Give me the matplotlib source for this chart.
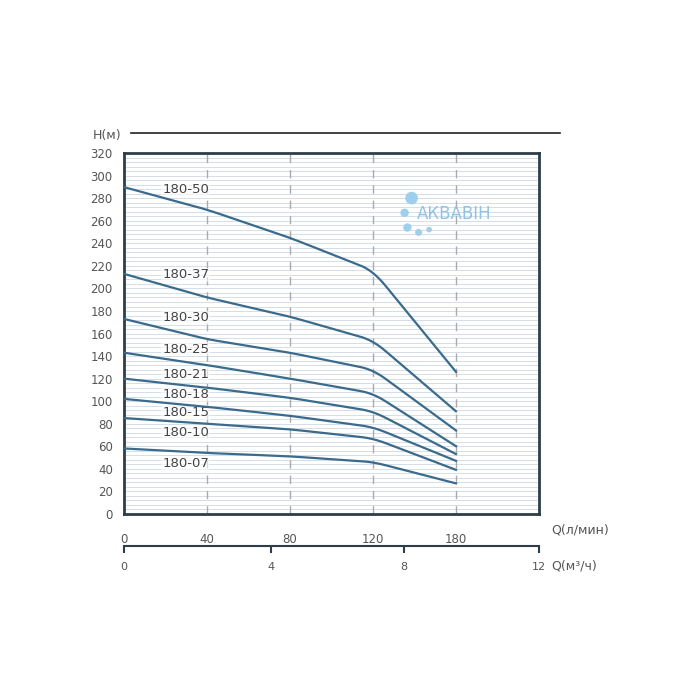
import matplotlib
matplotlib.use("Agg")
import matplotlib.pyplot as plt
import numpy as np

# flow tick positions are evenly spaced on the chart even though values are not
q_lmin = [0, 40, 80, 120, 180]
q_m3h = [0, 4, 8, 12]
q_m3h_pos = [0, 1.77, 3.37, 5.0]

models = ["180-50", "180-37", "180-30", "180-25", "180-21", "180-18", "180-15", "180-07"]
heads = [
    [290, 270, 245, 216, 126],
    [213, 192, 175, 154, 91],
    [173, 155, 143, 128, 74],
    [143, 132, 120, 107, 60],
    [120, 112, 103, 91, 53],
    [102, 95, 87, 77, 47],
    [85, 80, 75, 67, 39],
    [58, 54, 51, 46, 27],
]
label_names = ["180-50", "180-37", "180-30", "180-25", "180-21", "180-18", "180-15", "180-10", "180-07"]
label_y = [288, 212, 174, 146, 124, 106, 90, 72, 45]

LINE = "#3a6a8c"
fig = plt.figure(figsize=(7, 7), dpi=100)
ax = fig.add_axes([0.177, 0.266, 0.593, 0.515])

for y in np.arange(4, 320, 4):
    ax.axhline(y, color="#cfd9e3", lw=0.6, zorder=0)
for x in range(1, 5):
    ax.plot([x, x], [0, 320], color="#aaaaaa", lw=1, ls=(0, (6, 5)), zorder=1)

xs = np.arange(5)
for h in heads:
    xx = np.linspace(0, 4, 200)
    yy = np.interp(xx, xs, h)
    # smooth the corners a bit
    k = np.ones(15) / 15
    pad = np.concatenate([np.full(7, yy[0]), yy, np.full(7, yy[-1])])
    ys = np.convolve(pad, k, mode="valid")
    ys[:8] = yy[:8]
    ys[-8:] = yy[-8:]
    ax.plot(xx, ys, color=LINE, lw=1.6, zorder=3)

for name, y in zip(label_names, label_y):
    ax.text(0.46, y, name, fontsize=9.5, color="#444444", va="center", ha="left",
            bbox=dict(facecolor="white", edgecolor="none", pad=0.5, alpha=0.6), zorder=2)

ax.set_xlim(0, 5)
ax.set_ylim(0, 320)
ax.set_yticks(range(0, 321, 20))
ax.set_xticks(range(5))
ax.set_xticklabels([str(v) for v in q_lmin])
ax.tick_params(length=0, labelsize=8.5, colors="#555555", pad=8)
ax.tick_params(axis="x", pad=14)
for s in ax.spines.values():
    s.set_color("#2d3e4a")
    s.set_linewidth(2)
ax.text(-0.005, 1.03, "H(м)", transform=ax.transAxes, ha="right", va="bottom", fontsize=9, color="#555555")
ax.text(1.03, -0.045, "Q(л/мин)", transform=ax.transAxes, ha="left", va="center", fontsize=9, color="#555555")

ax2 = fig.add_axes([0.177, 0.15, 0.593, 0.07])
ax2.set_xlim(0, 5)
ax2.set_ylim(0, 1)
ax2.patch.set_visible(False)
for k in ["left", "right", "bottom"]:
    ax2.spines[k].set_visible(False)
ax2.spines["top"].set_color("#2d3e4a")
ax2.spines["top"].set_linewidth(1.5)
ax2.xaxis.set_ticks_position("top")
ax2.set_xticks(q_m3h_pos)
ax2.tick_params(axis="x", direction="in", length=5, width=1.5, color="#2d3e4a",
                labeltop=False, labelbottom=False)
for p, v in zip(q_m3h_pos, q_m3h):
    ax2.text(p, 0.58, str(v), ha="center", va="center", fontsize=8, color="#555555")
ax2.set_yticks([])
ax2.text(1.03, 0.6, "Q(м³/ч)", transform=ax2.transAxes, ha="left", va="center", fontsize=9, color="#555555")

# top rule and logo
fig.add_artist(plt.Line2D([0.187, 0.8], [0.81, 0.81], color="#222222", lw=1.2))
fig.text(0.595, 0.694, "АКВАВІН", fontsize=12, color="#8fc3e6", ha="left", va="center")
for (bx, by, r) in [(0.588, 0.717, 0.008), (0.578, 0.696, 0.005), (0.582, 0.675, 0.005), (0.598, 0.668, 0.004), (0.613, 0.672, 0.003)]:
    fig.add_artist(matplotlib.patches.Circle((bx, by), r, color="#9fcfee", transform=fig.transFigure))

fig.savefig("out.png", dpi=100)
